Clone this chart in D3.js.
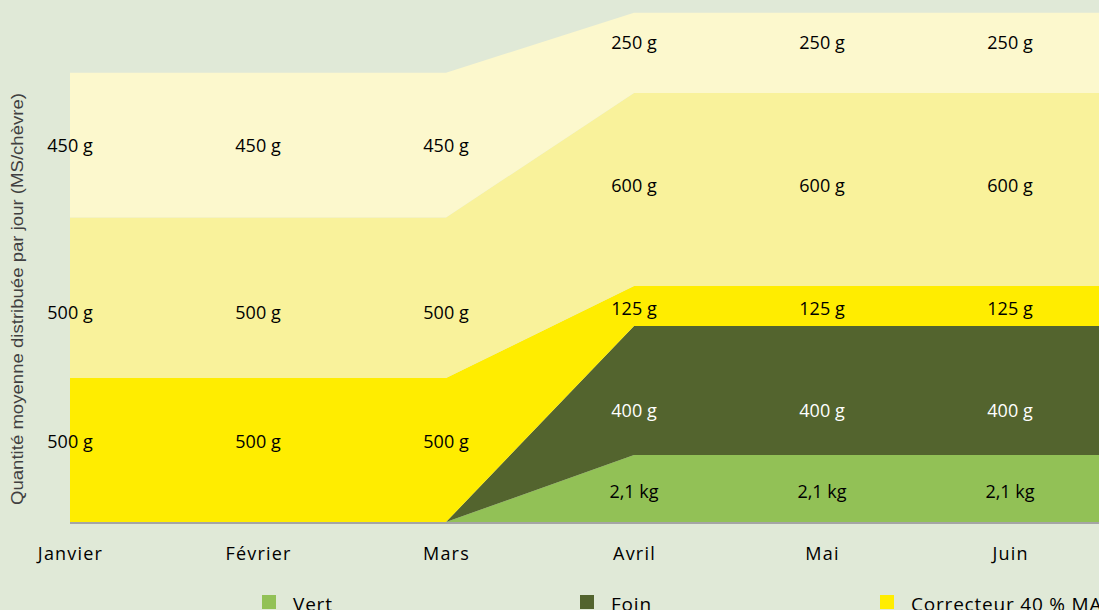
<!DOCTYPE html>
<html>
<head>
<meta charset="utf-8">
<script src="https://cdn.jsdelivr.net/npm/d3@7"></script>
<style>
  body { margin: 0; background: #e0e9d7; }
  svg { display: block; }
</style>
</head>
<body>
<div id="chart"></div>
<script>
// months on the x-axis (Juillet sits just past the right edge)
var months = ["Janvier", "Février", "Mars", "Avril", "Mai", "Juin", "Juillet"];

// plotted amounts (g MS / chèvre / jour)
var vert       = [0, 0, 0, 208, 208, 208, 208];
var foin       = [0, 0, 0, 401, 401, 401, 401];
var correcteur = [447, 447, 447, 124, 124, 124, 124];
var concentre  = [499, 499, 499, 600, 600, 600, 600];
var fourrage   = [450, 450, 450, 249, 249, 249, 249];

// labels as written on the chart (none visible for Juillet)
var vertLabels       = ["", "", "", "2,1 kg", "2,1 kg", "2,1 kg", ""];
var foinLabels       = ["", "", "", "400 g", "400 g", "400 g", ""];
var correcteurLabels = ["500 g", "500 g", "500 g", "125 g", "125 g", "125 g", ""];
var concentreLabels  = ["500 g", "500 g", "500 g", "600 g", "600 g", "600 g", ""];
var fourrageLabels   = ["450 g", "450 g", "450 g", "250 g", "250 g", "250 g", ""];

var seriesNames = ["Vert", "Foin", "Correcteur 40 % MAT", "Concentré", "Luzerne déshydratée"];

var width = 1099, height = 610;
var keys = ["vert", "foin", "correcteur", "concentre", "fourrage"];
var colors = ["#92c156", "#53642e", "#ffed00", "#f9f29b", "#fcf8cd"];
var textColors = ["#000", "#fff", "#000", "#000", "#000"];
var labels = [vertLabels, foinLabels, correcteurLabels, concentreLabels, fourrageLabels];
// small vertical nudges of the data labels (winter, spring)
var nudge = [[0, 2], [0, 19], [-9, 2], [14, -5], [0, -11]];

var table = months.map(function(m, i) {
  return {month: m, vert: vert[i], foin: foin[i], correcteur: correcteur[i],
          concentre: concentre[i], fourrage: fourrage[i]};
});

var x = d3.scalePoint().domain(months).range([70, 70 + 188 * 6]);
var y = d3.scaleLinear().domain([0, 1600]).range([522, 7]);

var svg = d3.select("#chart").append("svg")
  .attr("width", width)
  .attr("height", height);

svg.append("rect")
  .attr("width", width)
  .attr("height", height)
  .attr("fill", "#e0e9d7");

var stacked = d3.stack().keys(keys)(table);

var area = d3.area()
  .x(function(d) { return x(d.data.month); })
  .y0(function(d) { return y(d[0]); })
  .y1(function(d) { return y(d[1]); });

svg.selectAll(".layer")
  .data(stacked)
  .join("path")
  .attr("class", "layer")
  .attr("fill", function(d, i) { return colors[i]; })
  .attr("d", area);

// baseline
svg.append("line")
  .attr("x1", x("Janvier"))
  .attr("x2", width)
  .attr("y1", y(0) + 1)
  .attr("y2", y(0) + 1)
  .attr("stroke", "#a5a5a5")
  .attr("stroke-width", 2);

// data labels
stacked.forEach(function(layer, i) {
  layer.forEach(function(d, j) {
    var t = labels[i][j];
    if (!t) return;
    svg.append("text")
      .text(t)
      .attr("x", x(d.data.month))
      .attr("y", (y(d[0]) + y(d[1])) / 2 + nudge[i][j < 3 ? 0 : 1])
      .attr("text-anchor", "middle")
      .attr("dominant-baseline", "central")
      .style("font-family", "Open Sans")
      .style("font-size", "18px")
      .attr("fill", textColors[i]);
  });
});

// x-axis (only the months that fit)
var xAxis = d3.axisBottom(x).tickSize(0).tickPadding(0)
  .tickValues(months.slice(0, 6));
var gx = svg.append("g")
  .attr("transform", "translate(0," + 560 + ")")
  .call(xAxis);
gx.select(".domain").remove();
gx.selectAll("text")
  .attr("dy", 0)
  .attr("y", 0)
  .style("font-family", "Open Sans")
  .style("font-size", "18px")
  .style("letter-spacing", "1.2px")
  .attr("fill", "#000");

// y-axis title
svg.append("text")
  .text("Quantité moyenne distribuée par jour (MS/chèvre)")
  .attr("transform", "translate(23,299) rotate(-90)")
  .attr("text-anchor", "middle")
  .attr("textLength", 412)
  .attr("lengthAdjust", "spacingAndGlyphs")
  .style("font-family", "Liberation Sans")
  .style("font-size", "17px")
  .attr("fill", "#404040");

// legend (entries past the right edge are cut, as in the original)
var legendX = [262, 580, 880, 1180, 1480];
seriesNames.forEach(function(name, i) {
  svg.append("rect")
    .attr("x", legendX[i])
    .attr("y", 595)
    .attr("width", 14)
    .attr("height", 14)
    .attr("fill", colors[i]);
  svg.append("text")
    .text(name)
    .attr("x", legendX[i] + 31)
    .attr("y", 611)
    .style("font-family", "Open Sans")
    .style("font-size", "19px")
    .style("letter-spacing", "0.8px")
    .attr("fill", "#000");
});
</script>
</body>
</html>
